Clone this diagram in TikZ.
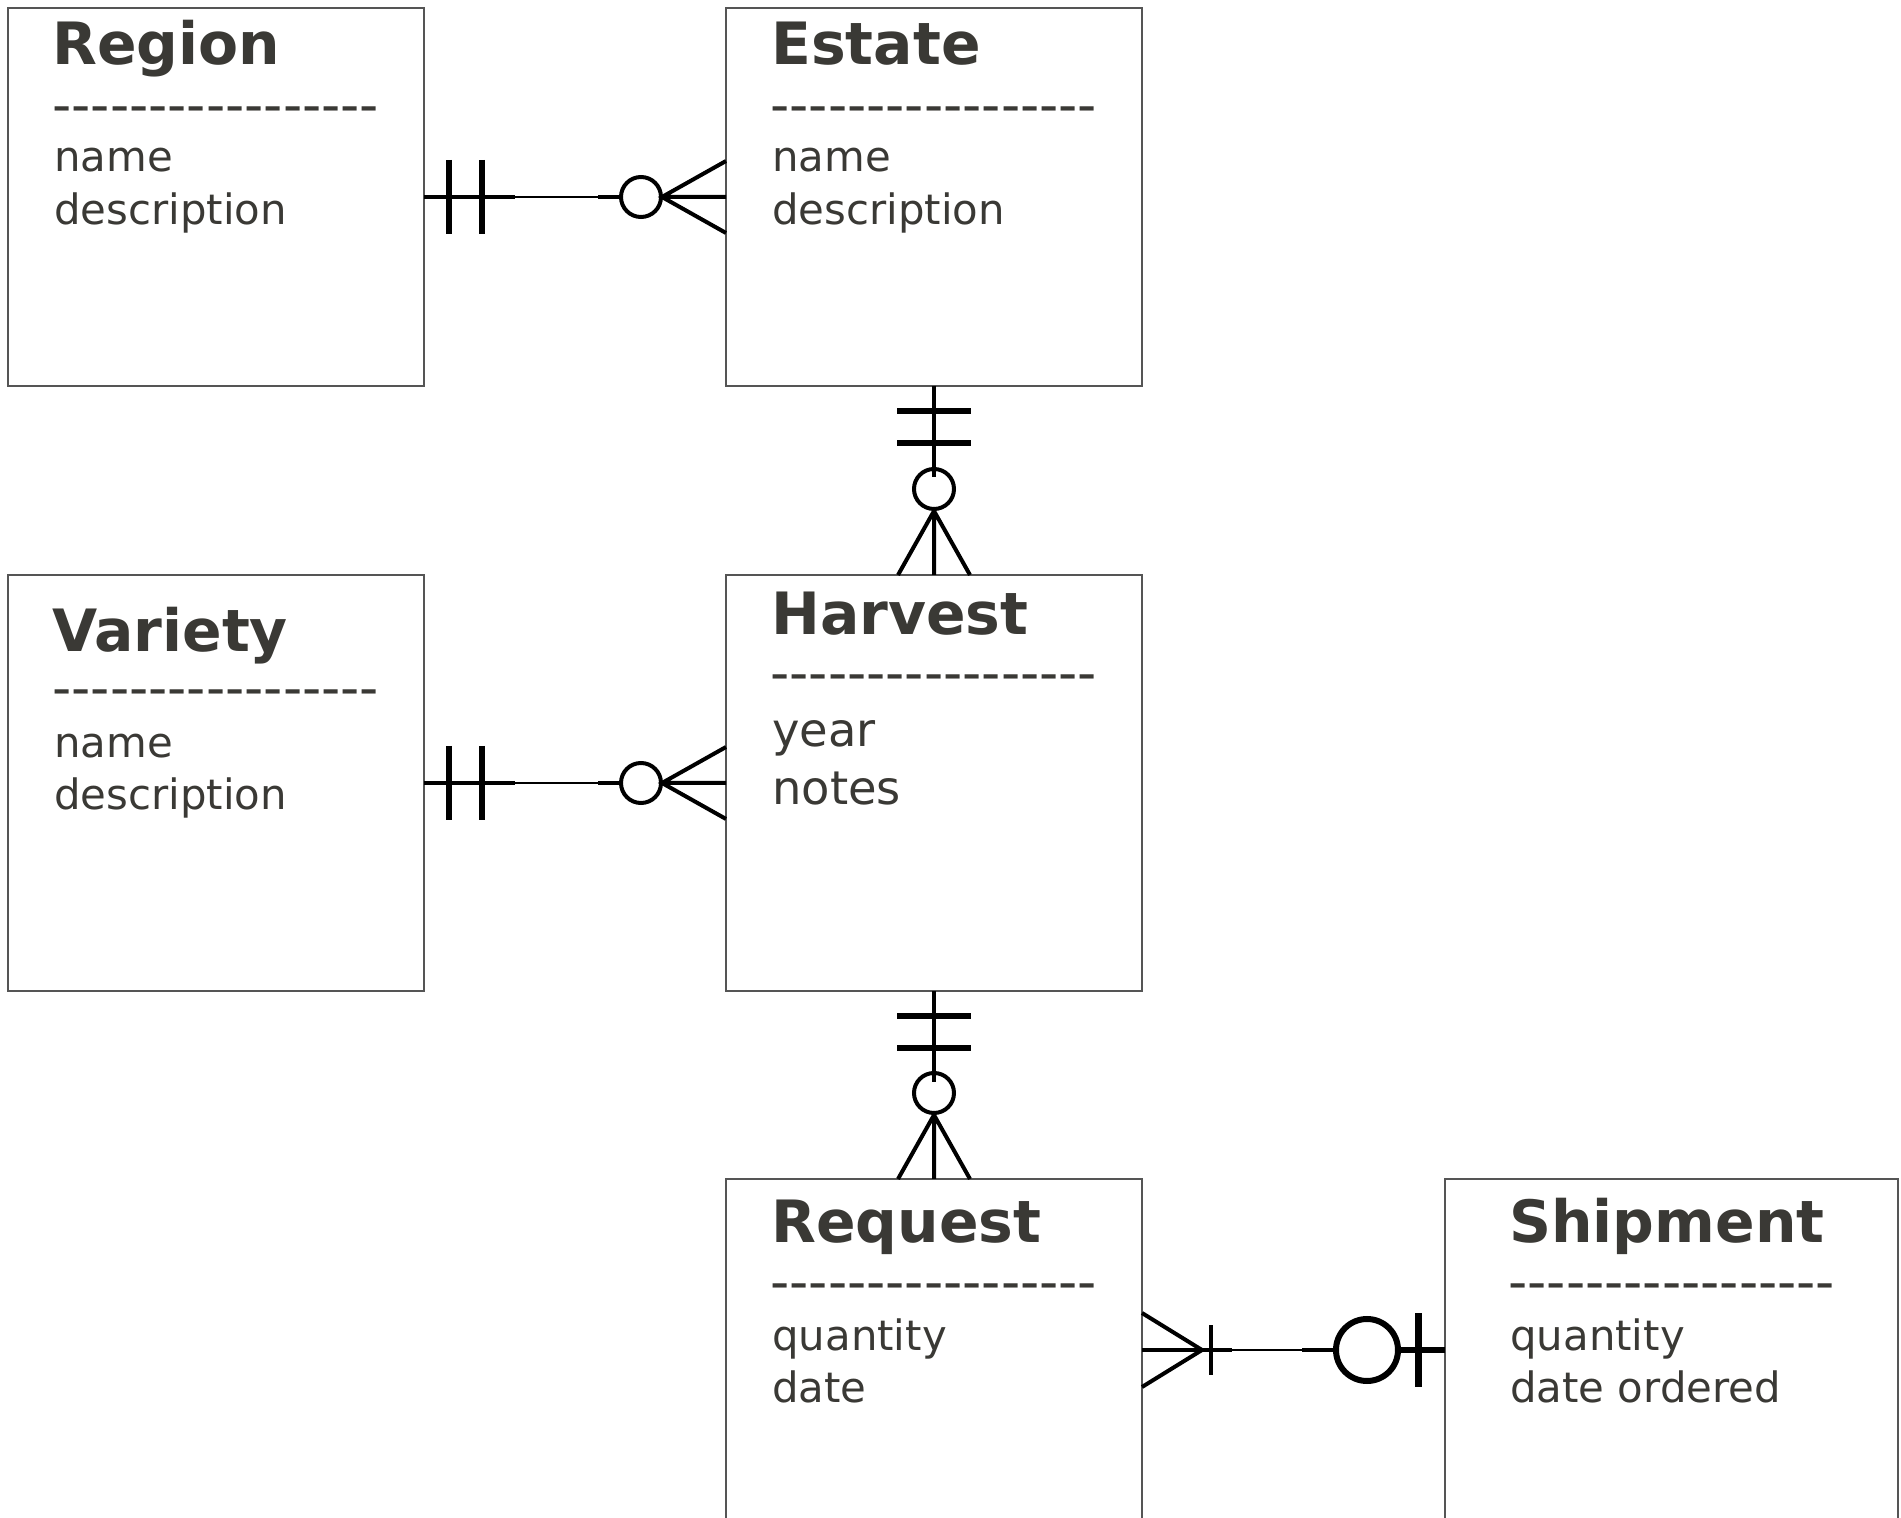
\documentclass[tikz,border=0pt]{standalone}
\usepackage{fontspec}
\setmainfont{DejaVu Sans}
\newfontfamily\dashfont{DejaVu Sans}[Ligatures=TeXOff]
\usetikzlibrary{calc}
\definecolor{ink}{RGB}{58,57,53}
\definecolor{boxgray}{RGB}{85,85,85}
\newcommand{\hyphenrow}{-----------------}
\tikzset{
  entity/.style={draw=boxgray, line width=0.3mm, rectangle, inner sep=0, outer sep=0, minimum width=83.2mm},
  heading/.style={anchor=base west, inner sep=0, text=ink, font=\fontsize{33.2}{39}\selectfont\bfseries},
  divider/.style={anchor=base west, inner sep=0, text=ink, font=\dashfont\fontsize{30.3}{36}\selectfont},
  field/.style={anchor=base west, inner sep=0, text=ink, font=\fontsize{23.8}{28}\selectfont},
  link/.style={line width=0.3mm},
  heavy/.style={line width=0.8mm},
  bar/.style={line width=1.2mm},
}
\begin{document}
\begin{tikzpicture}[x=0.2mm, y=-0.2mm]
\useasboundingbox (0,0) rectangle (1901,1518);

% entities
\node[entity, minimum height=75.6mm] (region) at (216,197) {};
\node[entity, minimum height=75.6mm] (estate) at (934,197) {};
\node[entity, minimum height=83.2mm] (variety) at (216,783) {};
\node[entity, minimum height=83.2mm] (harvest) at (934,783) {};
\node[entity, minimum height=68.4mm] (request) at (934,1350) {};
\node[entity, minimum width=90.6mm, minimum height=68.4mm] (shipment) at (1671.5,1350) {};

\node[heading] (regiontitle) at (52,65) {Region};
\node[divider] (regionrule) at (52,123.5) {\hyphenrow};
\node[field] (regionname) at (54,171.5) {name};
\node[field] (regiondesc) at (54,224.5) {description};

\node[heading] (estatetitle) at (771,65) {Estate};
\node[divider] (estaterule) at (770,123.5) {\hyphenrow};
\node[field] (estatename) at (772,171.5) {name};
\node[field] (estatedesc) at (772,224.5) {description};

\node[heading] (varietytitle) at (52,652) {Variety};
\node[divider] (varietyrule) at (52,707) {\hyphenrow};
\node[field] (varietyname) at (54,757.5) {name};
\node[field] (varietydesc) at (54,810) {description};

\node[heading] (harvesttitle) at (771,635) {Harvest};
\node[divider] (harvestrule) at (770,692) {\hyphenrow};
\node[field, font=\fontsize{26.4}{31}\selectfont] (harvestyear) at (772,747) {year};
\node[field, font=\fontsize{26.4}{31}\selectfont] (harvestnotes) at (772,805) {notes};

\node[heading] (requesttitle) at (771,1242) {Request};
\node[divider] (requestrule) at (770,1300) {\hyphenrow};
\node[field] (requestqty) at (772,1350) {quantity};
\node[field] (requestdate) at (772,1402) {date};

\node[heading] (shipmenttitle) at (1509,1242) {Shipment};
\node[divider] (shipmentrule) at (1508,1300) {\hyphenrow};
\node[field] (shipmentqty) at (1510,1350) {quantity};
\node[field] (shipmentdate) at (1510,1402) {date ordered};

% one and only one -- zero or many, left to right
\foreach \a/\b in {region/estate, variety/harvest} {
  \draw[link] (\a.east) -- (\b.west);
  \draw[heavy, fill=white] ($(\b.west)+(-85,0)$) circle[radius=4mm];
  \draw[heavy] (\a.east) -- ++(91,0) ($(\b.west)+(-128,0)$) -- ++(23,0);
  \draw[bar] ($(\a.east)+(25,-37)$) -- ++(0,74) ($(\a.east)+(58,-37)$) -- ++(0,74);
  \draw[heavy] ($(\b.west)+(0,-36)$) -- ++(-64,36) -- ++(64,36) ($(\b.west)+(-64,0)$) -- (\b.west);
}

% same, top to bottom
\foreach \a/\b in {estate/harvest, harvest/request} {
  \draw[link] (\a.south) -- (\b.north);
  \draw[heavy, fill=white] ($(\b.north)+(0,-86)$) circle[radius=4mm];
  \draw[heavy] (\a.south) -- ++(0,91);
  \draw[bar] ($(\a.south)+(-37,25)$) -- ++(74,0) ($(\a.south)+(-37,57)$) -- ++(74,0);
  \draw[heavy] ($(\b.north)+(-36,0)$) -- ++(36,-64) -- ++(36,64) ($(\b.north)+(0,-64)$) -- (\b.north);
}

% one or many -- zero or one
\draw[link] (request.east) -- (shipment.west);
\draw[heavy] (request.east) -- ++(90,0);
\draw[heavy] ($(request.east)+(0,-37)$) -- ++(60,37) -- ++(-60,37);
\draw[heavy] ($(request.east)+(69,-25)$) -- ++(0,50);
\draw[heavy] ($(shipment.west)+(-143,0)$) -- ++(34,0);
\draw[line width=1.2mm, fill=white] ($(shipment.west)+(-78,0)$) circle[radius=6.2mm];
\draw[line width=1.2mm] ($(shipment.west)+(-47,0)$) -- (shipment.west);
\draw[line width=1.4mm] ($(shipment.west)+(-27,-37)$) -- ++(0,74);
\end{tikzpicture}
\end{document}
